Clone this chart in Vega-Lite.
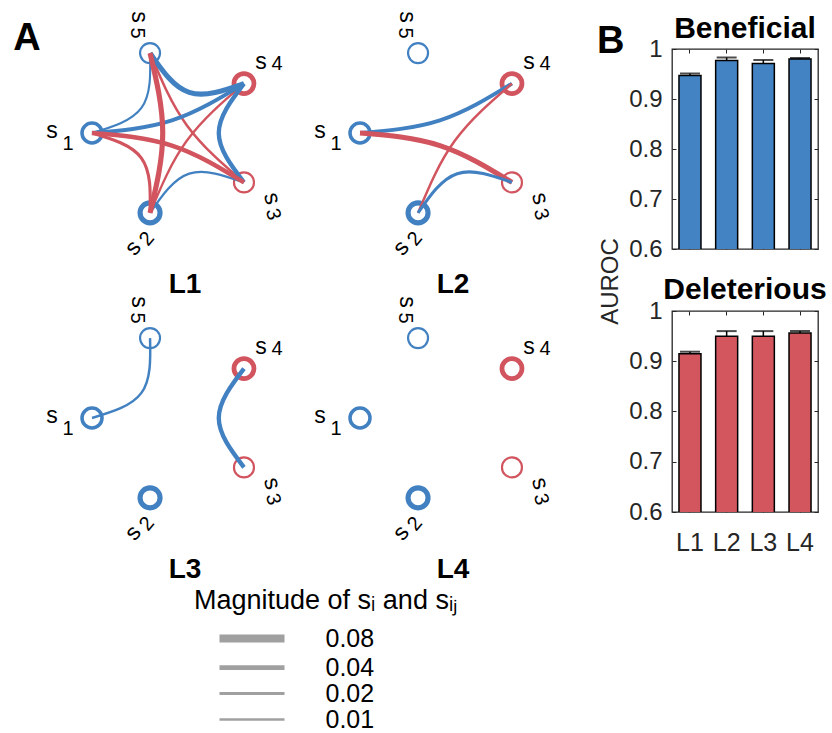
{
  "$schema": "https://vega.github.io/schema/vega-lite/v6.json",
  "padding": {"left": 13, "top": 11, "right": 0, "bottom": 0},
  "config": {
    "font": "Liberation Sans",
    "view": {"stroke": null},
    "axis": {"labelFont": "Liberation Sans", "titleFont": "Liberation Sans", "labelColor": "#262626", "titleColor": "#262626", "tickColor": "#262626"},
    "title": {"font": "Liberation Sans", "color": "#000000"}
  },
  "datasets": {
    "net": [
      {"level": "L1", "kind": "node", "id": "s1", "k": 0, "x": -1, "y": 0, "mag": 0.025, "sign": "pos"},
      {"level": "L1", "kind": "node", "id": "s2", "k": 0, "x": -0.309, "y": -0.951, "mag": 0.045, "sign": "pos"},
      {"level": "L1", "kind": "node", "id": "s3", "k": 0, "x": 0.809, "y": -0.588, "mag": 0.008, "sign": "neg"},
      {"level": "L1", "kind": "node", "id": "s4", "k": 0, "x": 0.809, "y": 0.588, "mag": 0.04, "sign": "neg"},
      {"level": "L1", "kind": "node", "id": "s5", "k": 0, "x": -0.309, "y": 0.951, "mag": 0.008, "sign": "pos"},
      {"level": "L2", "kind": "node", "id": "s1", "k": 0, "x": -1, "y": 0, "mag": 0.025, "sign": "pos"},
      {"level": "L2", "kind": "node", "id": "s2", "k": 0, "x": -0.309, "y": -0.951, "mag": 0.045, "sign": "pos"},
      {"level": "L2", "kind": "node", "id": "s3", "k": 0, "x": 0.809, "y": -0.588, "mag": 0.008, "sign": "neg"},
      {"level": "L2", "kind": "node", "id": "s4", "k": 0, "x": 0.809, "y": 0.588, "mag": 0.04, "sign": "neg"},
      {"level": "L2", "kind": "node", "id": "s5", "k": 0, "x": -0.309, "y": 0.951, "mag": 0.008, "sign": "pos"},
      {"level": "L3", "kind": "node", "id": "s1", "k": 0, "x": -1, "y": 0, "mag": 0.025, "sign": "pos"},
      {"level": "L3", "kind": "node", "id": "s2", "k": 0, "x": -0.309, "y": -0.951, "mag": 0.045, "sign": "pos"},
      {"level": "L3", "kind": "node", "id": "s3", "k": 0, "x": 0.809, "y": -0.588, "mag": 0.008, "sign": "neg"},
      {"level": "L3", "kind": "node", "id": "s4", "k": 0, "x": 0.809, "y": 0.588, "mag": 0.04, "sign": "neg"},
      {"level": "L3", "kind": "node", "id": "s5", "k": 0, "x": -0.309, "y": 0.951, "mag": 0.008, "sign": "pos"},
      {"level": "L4", "kind": "node", "id": "s1", "k": 0, "x": -1, "y": 0, "mag": 0.025, "sign": "pos"},
      {"level": "L4", "kind": "node", "id": "s2", "k": 0, "x": -0.309, "y": -0.951, "mag": 0.045, "sign": "pos"},
      {"level": "L4", "kind": "node", "id": "s3", "k": 0, "x": 0.809, "y": -0.588, "mag": 0.008, "sign": "neg"},
      {"level": "L4", "kind": "node", "id": "s4", "k": 0, "x": 0.809, "y": 0.588, "mag": 0.04, "sign": "neg"},
      {"level": "L4", "kind": "node", "id": "s5", "k": 0, "x": -0.309, "y": 0.951, "mag": 0.008, "sign": "pos"},

      {"level": "L1", "kind": "edge", "id": "s1-s5", "k": 0, "x": -1, "y": 0, "mag": 0.008, "sign": "pos"},
      {"level": "L1", "kind": "edge", "id": "s1-s5", "k": 1, "x": -0.412, "y": 0.299, "mag": 0.008, "sign": "pos"},
      {"level": "L1", "kind": "edge", "id": "s1-s5", "k": 2, "x": -0.309, "y": 0.951, "mag": 0.008, "sign": "pos"},
      {"level": "L1", "kind": "edge", "id": "s3-s2", "k": 0, "x": 0.809, "y": -0.588, "mag": 0.01, "sign": "pos"},
      {"level": "L1", "kind": "edge", "id": "s3-s2", "k": 1, "x": 0.157, "y": -0.484, "mag": 0.01, "sign": "pos"},
      {"level": "L1", "kind": "edge", "id": "s3-s2", "k": 2, "x": -0.309, "y": -0.951, "mag": 0.01, "sign": "pos"},
      {"level": "L1", "kind": "edge", "id": "s5-s3", "k": 0, "x": -0.309, "y": 0.951, "mag": 0.013, "sign": "neg"},
      {"level": "L1", "kind": "edge", "id": "s5-s3", "k": 1, "x": 0.128, "y": 0.093, "mag": 0.013, "sign": "neg"},
      {"level": "L1", "kind": "edge", "id": "s5-s3", "k": 2, "x": 0.809, "y": -0.588, "mag": 0.013, "sign": "neg"},
      {"level": "L1", "kind": "edge", "id": "s4-s2", "k": 0, "x": 0.809, "y": 0.588, "mag": 0.01, "sign": "neg"},
      {"level": "L1", "kind": "edge", "id": "s4-s2", "k": 1, "x": 0.128, "y": -0.093, "mag": 0.01, "sign": "neg"},
      {"level": "L1", "kind": "edge", "id": "s4-s2", "k": 2, "x": -0.309, "y": -0.951, "mag": 0.01, "sign": "neg"},
      {"level": "L1", "kind": "edge", "id": "s2-s1", "k": 0, "x": -0.309, "y": -0.951, "mag": 0.02, "sign": "neg"},
      {"level": "L1", "kind": "edge", "id": "s2-s1", "k": 1, "x": -0.412, "y": -0.299, "mag": 0.02, "sign": "neg"},
      {"level": "L1", "kind": "edge", "id": "s2-s1", "k": 2, "x": -1, "y": 0, "mag": 0.02, "sign": "neg"},
      {"level": "L1", "kind": "edge", "id": "s1-s4", "k": 0, "x": -1, "y": 0, "mag": 0.03, "sign": "pos"},
      {"level": "L1", "kind": "edge", "id": "s1-s4", "k": 1, "x": -0.049, "y": 0.15, "mag": 0.03, "sign": "pos"},
      {"level": "L1", "kind": "edge", "id": "s1-s4", "k": 2, "x": 0.809, "y": 0.588, "mag": 0.03, "sign": "pos"},
      {"level": "L1", "kind": "edge", "id": "s4-s3", "k": 0, "x": 0.809, "y": 0.588, "mag": 0.035, "sign": "pos"},
      {"level": "L1", "kind": "edge", "id": "s4-s3", "k": 1, "x": 0.509, "y": 0, "mag": 0.035, "sign": "pos"},
      {"level": "L1", "kind": "edge", "id": "s4-s3", "k": 2, "x": 0.809, "y": -0.588, "mag": 0.035, "sign": "pos"},
      {"level": "L1", "kind": "edge", "id": "s1-s3", "k": 0, "x": -1, "y": 0, "mag": 0.035, "sign": "neg"},
      {"level": "L1", "kind": "edge", "id": "s1-s3", "k": 1, "x": -0.049, "y": -0.15, "mag": 0.035, "sign": "neg"},
      {"level": "L1", "kind": "edge", "id": "s1-s3", "k": 2, "x": 0.809, "y": -0.588, "mag": 0.035, "sign": "neg"},
      {"level": "L1", "kind": "edge", "id": "s5-s4", "k": 0, "x": -0.309, "y": 0.951, "mag": 0.045, "sign": "pos"},
      {"level": "L1", "kind": "edge", "id": "s5-s4", "k": 1, "x": 0.157, "y": 0.484, "mag": 0.045, "sign": "pos"},
      {"level": "L1", "kind": "edge", "id": "s5-s4", "k": 2, "x": 0.809, "y": 0.588, "mag": 0.045, "sign": "pos"},
      {"level": "L1", "kind": "edge", "id": "s5-s2", "k": 0, "x": -0.309, "y": 0.951, "mag": 0.045, "sign": "neg"},
      {"level": "L1", "kind": "edge", "id": "s5-s2", "k": 1, "x": -0.158, "y": 0, "mag": 0.045, "sign": "neg"},
      {"level": "L1", "kind": "edge", "id": "s5-s2", "k": 2, "x": -0.309, "y": -0.951, "mag": 0.045, "sign": "neg"},

      {"level": "L2", "kind": "edge", "id": "s1-s4", "k": 0, "x": -1, "y": 0, "mag": 0.028, "sign": "pos"},
      {"level": "L2", "kind": "edge", "id": "s1-s4", "k": 1, "x": -0.049, "y": 0.15, "mag": 0.028, "sign": "pos"},
      {"level": "L2", "kind": "edge", "id": "s1-s4", "k": 2, "x": 0.809, "y": 0.588, "mag": 0.028, "sign": "pos"},
      {"level": "L2", "kind": "edge", "id": "s1-s3", "k": 0, "x": -1, "y": 0, "mag": 0.045, "sign": "neg"},
      {"level": "L2", "kind": "edge", "id": "s1-s3", "k": 1, "x": -0.049, "y": -0.15, "mag": 0.045, "sign": "neg"},
      {"level": "L2", "kind": "edge", "id": "s1-s3", "k": 2, "x": 0.809, "y": -0.588, "mag": 0.045, "sign": "neg"},
      {"level": "L2", "kind": "edge", "id": "s4-s2", "k": 0, "x": 0.809, "y": 0.588, "mag": 0.012, "sign": "neg"},
      {"level": "L2", "kind": "edge", "id": "s4-s2", "k": 1, "x": 0.128, "y": -0.093, "mag": 0.012, "sign": "neg"},
      {"level": "L2", "kind": "edge", "id": "s4-s2", "k": 2, "x": -0.309, "y": -0.951, "mag": 0.012, "sign": "neg"},
      {"level": "L2", "kind": "edge", "id": "s3-s2", "k": 0, "x": 0.809, "y": -0.588, "mag": 0.02, "sign": "pos"},
      {"level": "L2", "kind": "edge", "id": "s3-s2", "k": 1, "x": 0.157, "y": -0.484, "mag": 0.02, "sign": "pos"},
      {"level": "L2", "kind": "edge", "id": "s3-s2", "k": 2, "x": -0.309, "y": -0.951, "mag": 0.02, "sign": "pos"},

      {"level": "L3", "kind": "edge", "id": "s1-s5", "k": 0, "x": -1, "y": 0, "mag": 0.012, "sign": "pos"},
      {"level": "L3", "kind": "edge", "id": "s1-s5", "k": 1, "x": -0.412, "y": 0.299, "mag": 0.012, "sign": "pos"},
      {"level": "L3", "kind": "edge", "id": "s1-s5", "k": 2, "x": -0.309, "y": 0.951, "mag": 0.012, "sign": "pos"},
      {"level": "L3", "kind": "edge", "id": "s4-s3", "k": 0, "x": 0.809, "y": 0.588, "mag": 0.035, "sign": "pos"},
      {"level": "L3", "kind": "edge", "id": "s4-s3", "k": 1, "x": 0.509, "y": 0, "mag": 0.035, "sign": "pos"},
      {"level": "L3", "kind": "edge", "id": "s4-s3", "k": 2, "x": 0.809, "y": -0.588, "mag": 0.035, "sign": "pos"}
    ],
    "ben": [
      {"level": "L1", "auc": 0.947, "hi": 0.951},
      {"level": "L2", "auc": 0.977, "hi": 0.983},
      {"level": "L3", "auc": 0.971, "hi": 0.978},
      {"level": "L4", "auc": 0.980, "hi": 0.982}
    ],
    "del": [
      {"level": "L1", "auc": 0.915, "hi": 0.919},
      {"level": "L2", "auc": 0.950, "hi": 0.960},
      {"level": "L3", "auc": 0.950, "hi": 0.960},
      {"level": "L4", "auc": 0.956, "hi": 0.960}
    ]
  },
  "hconcat": [
    {
      "data": {"name": "net"},
      "title": {"text": "A", "anchor": "start", "fontSize": 38, "fontWeight": "bold", "offset": -47, "dx": -33},
      "facet": {"field": "level", "type": "nominal", "title": null,
        "header": {"labelOrient": "bottom", "labelFontSize": 28, "labelFontWeight": "bold", "labelPadding": 9, "labelColor": "#000000", "labelFont": "Liberation Sans"}},
      "columns": 2,
      "spacing": {"column": 14, "row": -3},
      "spec": {
        "width": 230,
        "height": 213,
        "view": {"stroke": null},
        "layer": [
          {
            "transform": [{"filter": "datum.kind == 'node'"}],
            "mark": {"type": "point", "shape": "circle", "filled": false, "size": 400, "opacity": 1},
            "encoding": {
              "x": {"field": "x", "type": "quantitative", "scale": {"domain": [-1.262, 1.476], "nice": false, "zero": false}, "axis": null},
              "y": {"field": "y", "type": "quantitative", "scale": {"domain": [-1.536, 1.0], "nice": false, "zero": false}, "axis": null},
              "color": {"field": "sign", "type": "nominal", "scale": {"domain": ["pos", "neg"], "range": ["#4281c1", "#d1545e"]}, "legend": null},
              "strokeWidth": {"field": "mag", "type": "quantitative", "scale": {"domain": [0, 0.08], "range": [1.5, 8], "zero": false, "nice": false},
                "legend": {"orient": "none", "legendX": 124, "legendY": 539, "direction": "vertical",
                  "title": "Magnitude of sᵢ and sᵢⱼ", "values": [0.08, 0.04, 0.02, 0.01],
                  "symbolType": "M-6.5,0H6.5", "symbolSize": 100, "symbolStrokeColor": "#a0a0a0", "symbolFillColor": "#a0a0a0",
                  "symbolOffset": 45.5, "labelOffset": 61, "labelFontSize": 25, "labelFont": "Liberation Sans", "labelColor": "#000000",
                  "titleFontSize": 27, "titleFont": "Liberation Sans", "titleFontWeight": "normal", "titleColor": "#000000", "titleLimit": 500,
                  "rowPadding": -3, "titlePadding": 11}}
            }
          },
          {
            "transform": [{"filter": "datum.kind == 'edge'"}],
            "mark": {"type": "line", "interpolate": "natural"},
            "encoding": {
              "x": {"field": "x", "type": "quantitative"},
              "y": {"field": "y", "type": "quantitative"},
              "detail": {"field": "id"},
              "order": {"field": "k"},
              "color": {"field": "sign", "type": "nominal"},
              "strokeWidth": {"field": "mag", "type": "quantitative"}
            }
          },
          {"transform": [{"filter": "datum.kind == 'node' && datum.id == 's1'"}], "mark": {"type": "text", "text": "s", "fontSize": 23, "angle": 0, "dx": -40, "dy": -2, "align": "center", "baseline": "middle", "color": "#000000"},
           "encoding": {"x": {"field": "x", "type": "quantitative"}, "y": {"field": "y", "type": "quantitative"}}},
          {"transform": [{"filter": "datum.kind == 'node' && datum.id == 's1'"}], "mark": {"type": "text", "text": "1", "fontSize": 20, "angle": 0, "dx": -24, "dy": 11, "align": "center", "baseline": "middle", "color": "#000000"},
           "encoding": {"x": {"field": "x", "type": "quantitative"}, "y": {"field": "y", "type": "quantitative"}}},
          {"transform": [{"filter": "datum.kind == 'node' && datum.id == 's5'"}], "mark": {"type": "text", "text": "s", "fontSize": 23, "angle": 90, "dx": -36, "dy": 11, "align": "center", "baseline": "middle", "color": "#000000"},
           "encoding": {"x": {"field": "x", "type": "quantitative"}, "y": {"field": "y", "type": "quantitative"}}},
          {"transform": [{"filter": "datum.kind == 'node' && datum.id == 's5'"}], "mark": {"type": "text", "text": "5", "fontSize": 20, "angle": 90, "dx": -20, "dy": 13, "align": "center", "baseline": "middle", "color": "#000000"},
           "encoding": {"x": {"field": "x", "type": "quantitative"}, "y": {"field": "y", "type": "quantitative"}}},
          {"transform": [{"filter": "datum.kind == 'node' && datum.id == 's4'"}], "mark": {"type": "text", "text": "s", "fontSize": 23, "angle": 0, "dx": 17, "dy": -22, "align": "center", "baseline": "middle", "color": "#000000"},
           "encoding": {"x": {"field": "x", "type": "quantitative"}, "y": {"field": "y", "type": "quantitative"}}},
          {"transform": [{"filter": "datum.kind == 'node' && datum.id == 's4'"}], "mark": {"type": "text", "text": "4", "fontSize": 20, "angle": 0, "dx": 33, "dy": -20, "align": "center", "baseline": "middle", "color": "#000000"},
           "encoding": {"x": {"field": "x", "type": "quantitative"}, "y": {"field": "y", "type": "quantitative"}}},
          {"transform": [{"filter": "datum.kind == 'node' && datum.id == 's3'"}], "mark": {"type": "text", "text": "s", "fontSize": 23, "angle": 75, "dx": 22.7, "dy": -22.9, "align": "center", "baseline": "middle", "color": "#000000"},
           "encoding": {"x": {"field": "x", "type": "quantitative"}, "y": {"field": "y", "type": "quantitative"}}},
          {"transform": [{"filter": "datum.kind == 'node' && datum.id == 's3'"}], "mark": {"type": "text", "text": "3", "fontSize": 20, "angle": 75, "dx": 38.4, "dy": -19.7, "align": "center", "baseline": "middle", "color": "#000000"},
           "encoding": {"x": {"field": "x", "type": "quantitative"}, "y": {"field": "y", "type": "quantitative"}}},
          {"transform": [{"filter": "datum.kind == 'node' && datum.id == 's2'"}], "mark": {"type": "text", "text": "s", "fontSize": 23, "angle": -50, "dx": -37.7, "dy": 9.5, "align": "center", "baseline": "middle", "color": "#000000"},
           "encoding": {"x": {"field": "x", "type": "quantitative"}, "y": {"field": "y", "type": "quantitative"}}},
          {"transform": [{"filter": "datum.kind == 'node' && datum.id == 's2'"}], "mark": {"type": "text", "text": "2", "fontSize": 20, "angle": -50, "dx": -21.9, "dy": 14.4, "align": "center", "baseline": "middle", "color": "#000000"},
           "encoding": {"x": {"field": "x", "type": "quantitative"}, "y": {"field": "y", "type": "quantitative"}}}
        ]
      }
    },
    {
      "title": {"text": "B", "anchor": "start", "fontSize": 38, "fontWeight": "bold", "offset": -48, "dx": -1},
      "bounds": "flush",
      "spacing": 62,
      "vconcat": [
        {
          "data": {"name": "ben"},
          "title": {"text": "Beneficial", "fontSize": 30, "fontWeight": "bold", "anchor": "middle", "frame": "group", "offset": -7},
          "width": 146,
          "height": 200,
          "view": {"stroke": "#262626", "strokeWidth": 1.3},
          "layer": [
            {
              "mark": {"type": "bar", "color": "#4382c3", "stroke": "#000000", "strokeWidth": 1.5, "clip": true},
              "encoding": {
                "x": {"field": "level", "type": "nominal", "scale": {"paddingInner": 0.4, "paddingOuter": 0.19},
                  "axis": {"orient": "bottom", "labels": false, "title": null, "domain": false, "tickSize": -4, "ticks": true}},
                "y": {"field": "auc", "type": "quantitative", "scale": {"domain": [0.6, 1], "zero": false, "nice": false},
                  "axis": {"orient": "left", "values": [0.6, 0.7, 0.8, 0.9, 1], "format": ".1~f", "labelFontSize": 24, "domain": false, "grid": false,
                    "tickSize": -4, "labelPadding": 14, "title": "AUROC", "titleFontSize": 24, "titleFontWeight": "normal", "titleY": 232, "titlePadding": 6}}
              }
            },
            {
              "mark": {"type": "rule", "color": "#000000", "strokeWidth": 1.5},
              "encoding": {
                "x": {"field": "level", "type": "nominal", "axis": null},
                "y": {"field": "auc", "type": "quantitative", "axis": null},
                "y2": {"field": "hi"}
              }
            },
            {
              "mark": {"type": "tick", "color": "#000000", "thickness": 2, "size": 20, "orient": "horizontal"},
              "encoding": {
                "x": {"field": "level", "type": "nominal", "axis": null},
                "y": {"field": "hi", "type": "quantitative", "axis": null}
              }
            },
            {
              "mark": {"type": "tick", "opacity": 0},
              "encoding": {
                "x": {"field": "level", "type": "nominal", "axis": {"orient": "top", "labels": false, "title": null, "domain": false, "tickSize": -4}},
                "y": {"field": "auc", "type": "quantitative", "axis": {"orient": "right", "values": [0.6, 0.7, 0.8, 0.9, 1], "labels": false, "title": null, "domain": false, "grid": false, "tickSize": -4}}
              }
            }
          ],
          "resolve": {"axis": {"x": "independent", "y": "independent"}}
        },
        {
          "data": {"name": "del"},
          "title": {"text": "Deleterious", "fontSize": 30, "fontWeight": "bold", "anchor": "middle", "frame": "group", "offset": -6},
          "width": 146,
          "height": 201,
          "view": {"stroke": "#262626", "strokeWidth": 1.3},
          "layer": [
            {
              "mark": {"type": "bar", "color": "#d3565f", "stroke": "#000000", "strokeWidth": 1.5, "clip": true},
              "encoding": {
                "x": {"field": "level", "type": "nominal", "scale": {"paddingInner": 0.4, "paddingOuter": 0.19},
                  "axis": {"orient": "bottom", "labelFontSize": 25, "labelAngle": 0, "title": null, "domain": false, "tickSize": -4, "labelPadding": 22}},
                "y": {"field": "auc", "type": "quantitative", "scale": {"domain": [0.6, 1], "zero": false, "nice": false},
                  "axis": {"orient": "left", "values": [0.6, 0.7, 0.8, 0.9, 1], "format": ".1~f", "labelFontSize": 24, "domain": false, "grid": false,
                    "tickSize": -4, "labelPadding": 14, "title": null}}
              }
            },
            {
              "mark": {"type": "rule", "color": "#000000", "strokeWidth": 1.5},
              "encoding": {
                "x": {"field": "level", "type": "nominal", "axis": null},
                "y": {"field": "auc", "type": "quantitative", "axis": null},
                "y2": {"field": "hi"}
              }
            },
            {
              "mark": {"type": "tick", "color": "#000000", "thickness": 2, "size": 20, "orient": "horizontal"},
              "encoding": {
                "x": {"field": "level", "type": "nominal", "axis": null},
                "y": {"field": "hi", "type": "quantitative", "axis": null}
              }
            },
            {
              "mark": {"type": "tick", "opacity": 0},
              "encoding": {
                "x": {"field": "level", "type": "nominal", "axis": {"orient": "top", "labels": false, "title": null, "domain": false, "tickSize": -4}},
                "y": {"field": "auc", "type": "quantitative", "axis": {"orient": "right", "values": [0.6, 0.7, 0.8, 0.9, 1], "labels": false, "title": null, "domain": false, "grid": false, "tickSize": -4}}
              }
            }
          ],
          "resolve": {"axis": {"x": "independent", "y": "independent"}}
        }
      ]
    }
  ],
  "spacing": 28
}
